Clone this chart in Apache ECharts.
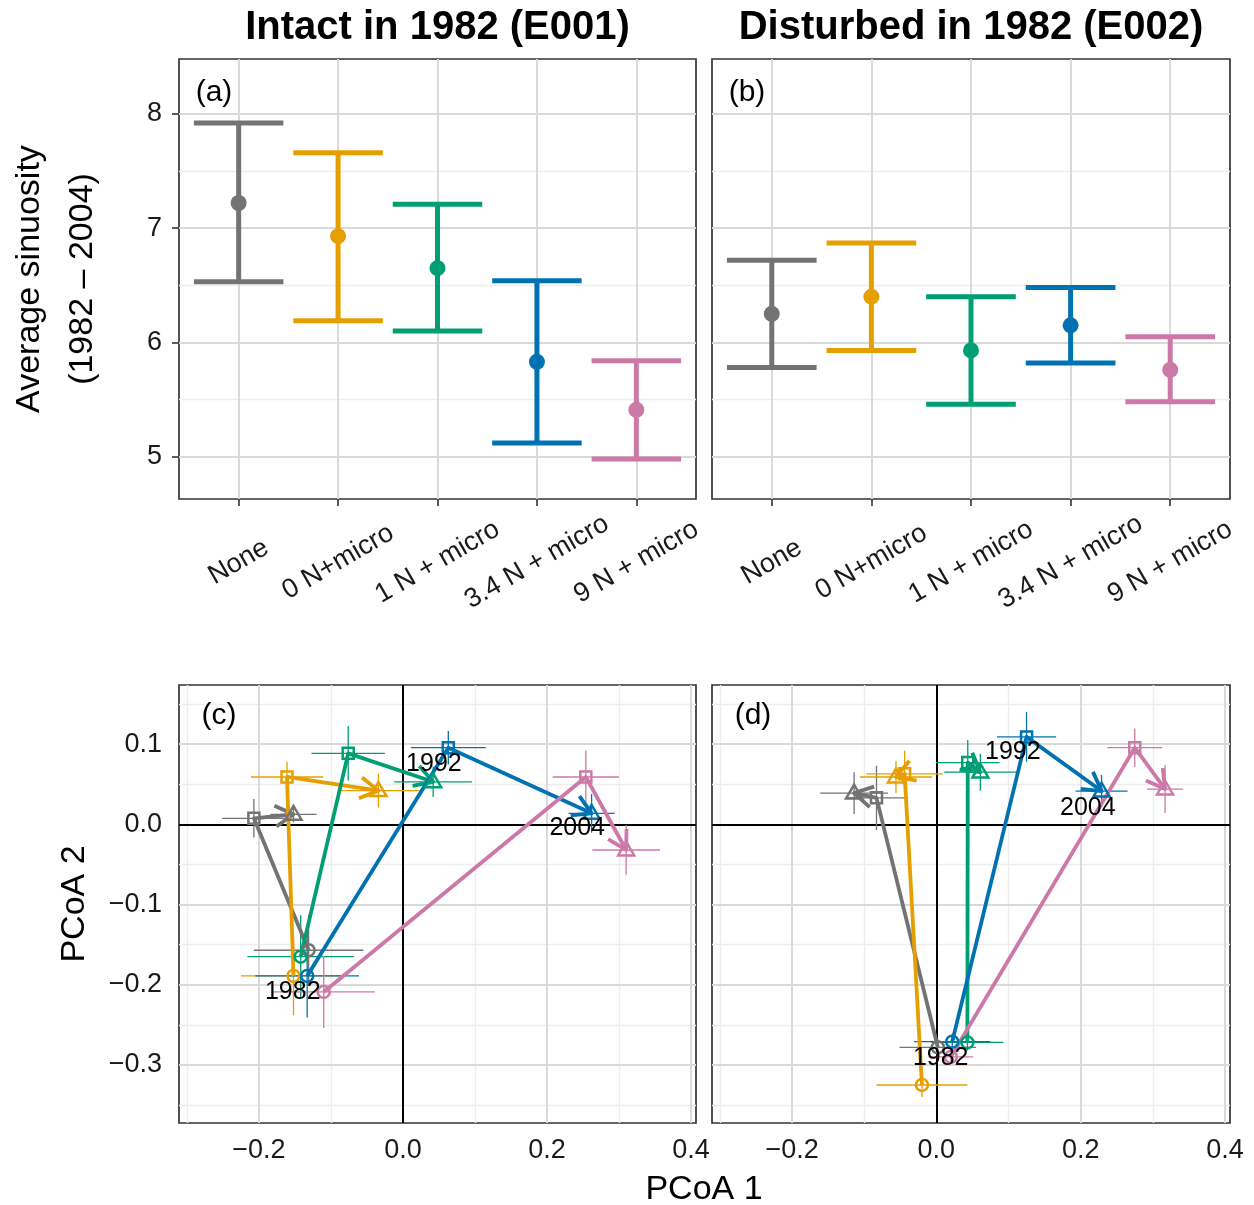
<!DOCTYPE html>
<html><head><meta charset="utf-8">
<script src="https://cdn.jsdelivr.net/npm/echarts@6/dist/echarts.min.js"></script>
<style>html,body{margin:0;padding:0;background:#fff}#c{width:1254px;height:1205px}</style>
</head><body><div id="c"></div>
<script>
// ---------- data ----------
const treatments = ['None', '0 N+micro', '1 N + micro', '3.4 N + micro', '9 N + micro'];
const colors = ['#737373', '#E69F00', '#009E73', '#0072B2', '#CC79A7'];
const titles = ['Intact in 1982 (E001)', 'Disturbed in 1982 (E002)'];

// Average sinuosity (1982 - 2004): mean and interval bounds
const e001Mean = [7.22, 6.93, 6.65, 5.83, 5.41];
const e001Low  = [6.53, 6.19, 6.10, 5.12, 4.98];
const e001High = [7.92, 7.66, 7.21, 6.54, 5.84];
const e002Mean = [6.25, 6.40, 5.93, 6.15, 5.76];
const e002Low  = [5.78, 5.93, 5.46, 5.82, 5.48];
const e002High = [6.72, 6.87, 6.40, 6.48, 6.05];
const sinTicks = [5, 6, 7, 8];

const years = ['1982', '1992', '2004'];
// PCoA centroids; rows = treatment, columns = year (1982, 1992, 2004)
const e001PC1 = [
  [-0.131, -0.207, -0.152],
  [-0.152, -0.161, -0.034],
  [-0.142, -0.076,  0.042],
  [-0.133,  0.063,  0.262],
  [-0.110,  0.254,  0.310]];
const e001PC2 = [
  [-0.157, 0.0075, 0.0125],
  [-0.189, 0.059,  0.042],
  [-0.165, 0.0885, 0.053],
  [-0.189, 0.0955, 0.0137],
  [-0.209, 0.059, -0.032]];
const e001PC1se = [
  [0.076, 0.044, 0.032],
  [0.073, 0.050, 0.057],
  [0.074, 0.051, 0.054],
  [0.072, 0.052, 0.032],
  [0.071, 0.046, 0.047]];
const e001PC2se = [
  [0.044, 0.024, 0.010],
  [0.049, 0.019, 0.021],
  [0.052, 0.034, 0.019],
  [0.052, 0.021, 0.024],
  [0.045, 0.033, 0.031]];
const e002PC1 = [
  [ 0.002, -0.083, -0.114],
  [-0.020, -0.044, -0.056],
  [ 0.043,  0.0435, 0.061],
  [ 0.022,  0.125,  0.229],
  [ 0.020,  0.275,  0.317]];
const e002PC2 = [
  [-0.278, 0.033,  0.039],
  [-0.325, 0.063,  0.059],
  [-0.272, 0.077,  0.065],
  [-0.271, 0.109,  0.0415],
  [-0.290, 0.0955, 0.044]];
const e002PC1se = [
  [0.053, 0.044, 0.047],
  [0.063, 0.053, 0.050],
  [0.050, 0.044, 0.050],
  [0.053, 0.041, 0.036],
  [0.031, 0.038, 0.025]];
const e002PC2se = [
  [0.010, 0.040, 0.026],
  [0.015, 0.029, 0.020],
  [0.010, 0.028, 0.023],
  [0.010, 0.031, 0.020],
  [0.005, 0.024, 0.030]];
// year label anchor positions (PCoA units)
const e001YearLabX = [-0.153, 0.043, 0.242];
const e001YearLabY = [-0.209, 0.075, -0.005];
const e002YearLabX = [0.006, 0.106, 0.210];
const e002YearLabY = [-0.291, 0.090, 0.020];
const pc1Ticks = [-0.2, 0, 0.2, 0.4];
const pc2Ticks = [-0.3, -0.2, -0.1, 0, 0.1];

// ---------- styling ----------
const FONT = "'Liberation Sans', Arial, Helvetica, sans-serif";
const TXT = '#1a1a1a';
const MAJ = '#D9D9D9', MIN = '#EDEDED';
const TICKFS = 27;

const chart = echarts.init(document.getElementById('c'), null, {renderer: 'canvas'});

function fmtNum(v) {
  const s = (Math.abs(v) < 1e-9 ? 0 : v).toFixed(1);
  return s.replace('-', '\u2212');
}

const grids = [
  {left: 179, top: 59, width: 517, height: 440},
  {left: 712, top: 59, width: 518, height: 440},
  {left: 179, top: 685, width: 517, height: 438},
  {left: 712, top: 685, width: 518, height: 438}
].map(g => Object.assign(g, {show: true, borderColor: '#333', borderWidth: 1.7, backgroundColor: '#fff', containLabel: false}));

const tickStyle = {show: true, length: 7, lineStyle: {color: '#333', width: 1.6}};
function catX(i) {
  return {type: 'value', gridIndex: i, min: 0.4, max: 5.6,
    axisLine: {show: false}, splitLine: {show: false},
    axisTick: Object.assign({customValues: [1, 2, 3, 4, 5]}, tickStyle),
    axisLabel: {customValues: [1, 2, 3, 4, 5], formatter: v => treatments[Math.round(v) - 1],
      rotate: 30, align: 'center', verticalAlign: 'middle', margin: 63,
      fontSize: TICKFS, color: TXT, fontFamily: FONT}};
}
function sinY(i) {
  return {type: 'value', gridIndex: i, min: 4.63, max: 8.48,
    axisLine: {show: false}, splitLine: {show: false},
    axisTick: Object.assign({customValues: sinTicks}, tickStyle, {show: i === 0}),
    axisLabel: {show: i === 0, customValues: sinTicks, margin: 17, fontSize: TICKFS, color: TXT, fontFamily: FONT}};
}
function pcX(i) {
  return {type: 'value', gridIndex: i, min: -0.311, max: 0.407,
    axisLine: {show: false}, splitLine: {show: false},
    axisTick: Object.assign({customValues: pc1Ticks}, tickStyle),
    axisLabel: {customValues: pc1Ticks, formatter: fmtNum, margin: 14, fontSize: TICKFS, color: TXT, fontFamily: FONT}};
}
function pcY(i) {
  return {type: 'value', gridIndex: i, min: -0.3724, max: 0.1737,
    axisLine: {show: false}, splitLine: {show: false},
    axisTick: Object.assign({customValues: pc2Ticks}, tickStyle, {show: i === 2}),
    axisLabel: {show: i === 2, customValues: pc2Ticks, formatter: fmtNum, margin: 17, fontSize: TICKFS, color: TXT, fontFamily: FONT}};
}

// gridline helper (markLine on an empty series)
function gridSeries(ai, xMaj, xMin, yMaj, yMin, zeroLines) {
  const d = [];
  xMin.forEach(v => d.push({xAxis: v, lineStyle: {color: MIN, width: 1.4, type: 'solid'}}));
  yMin.forEach(v => d.push({yAxis: v, lineStyle: {color: MIN, width: 1.4, type: 'solid'}}));
  xMaj.forEach(v => d.push({xAxis: v, lineStyle: {color: MAJ, width: 1.9, type: 'solid'}}));
  yMaj.forEach(v => d.push({yAxis: v, lineStyle: {color: MAJ, width: 1.9, type: 'solid'}}));
  if (zeroLines) {
    d.push({xAxis: 0, lineStyle: {color: '#000', width: 2, type: 'solid'}});
    d.push({yAxis: 0, lineStyle: {color: '#000', width: 2, type: 'solid'}});
  }
  return {type: 'line', xAxisIndex: ai, yAxisIndex: ai, data: [], z: 1,
    markLine: {silent: true, symbol: ['none', 'none'], label: {show: false}, animation: false, z: 1,
      emphasis: {disabled: true}, data: d}};
}

// sinuosity error bars
function sinRender(params, api) {
  const x = api.value(0), lo = api.value(1), m = api.value(2), hi = api.value(3);
  const pLo = api.coord([x, lo]), pHi = api.coord([x, hi]), pM = api.coord([x, m]);
  const half = api.size([0.9, 0])[0] / 2;
  const col = colors[params.dataIndex];
  const ls = {stroke: col, lineWidth: 5, fill: 'none'};
  return {type: 'group', children: [
    {type: 'line', shape: {x1: pLo[0], y1: pLo[1], x2: pHi[0], y2: pHi[1]}, style: ls},
    {type: 'line', shape: {x1: pLo[0] - half, y1: pLo[1], x2: pLo[0] + half, y2: pLo[1]}, style: ls},
    {type: 'line', shape: {x1: pHi[0] - half, y1: pHi[1], x2: pHi[0] + half, y2: pHi[1]}, style: ls},
    {type: 'circle', shape: {cx: pM[0], cy: pM[1], r: 8}, style: {fill: col, stroke: 'none'}}
  ]};
}
function sinSeries(ai, lo, mean, hi) {
  return {type: 'custom', xAxisIndex: ai, yAxisIndex: ai, z: 10, renderItem: sinRender,
    data: mean.map((m, i) => [i + 1, lo[i], m, hi[i]])};
}

// PCoA layers
function errRender(params, api) {
  const x = api.value(0), y = api.value(1), xe = api.value(2), ye = api.value(3), t = api.value(4);
  const a = api.coord([x - xe, y]), b = api.coord([x + xe, y]);
  const c = api.coord([x, y - ye]), d = api.coord([x, y + ye]);
  const st = {stroke: colors[t], lineWidth: 1.3, fill: 'none'};
  return {type: 'group', children: [
    {type: 'line', shape: {x1: a[0], y1: a[1], x2: b[0], y2: b[1]}, style: st},
    {type: 'line', shape: {x1: c[0], y1: c[1], x2: d[0], y2: d[1]}, style: st}
  ]};
}
function pathRender(params, api) {
  const t = api.value(6);
  const pts = [0, 1, 2].map(k => api.coord([api.value(2 * k), api.value(2 * k + 1)]));
  const col = colors[t];
  const tip = pts[2], prev = pts[1];
  const ang = Math.atan2(tip[1] - prev[1], tip[0] - prev[0]);
  const L = 21, A = Math.PI / 6;
  const b1 = [tip[0] - L * Math.cos(ang - A), tip[1] - L * Math.sin(ang - A)];
  const b2 = [tip[0] - L * Math.cos(ang + A), tip[1] - L * Math.sin(ang + A)];
  const st = {stroke: col, lineWidth: 3.8, fill: 'none', lineJoin: 'round'};
  return {type: 'group', children: [
    {type: 'polyline', shape: {points: pts}, style: st},
    {type: 'polyline', shape: {points: [b1, tip, b2]}, style: st}
  ]};
}
function ptRender(params, api) {
  const p = api.coord([api.value(0), api.value(1)]);
  const t = api.value(2), yr = api.value(3);
  const st = {stroke: colors[t], lineWidth: 2.5, fill: 'none'};
  if (yr === 0) return {type: 'circle', shape: {cx: p[0], cy: p[1], r: 6}, style: st};
  if (yr === 1) return {type: 'rect', shape: {x: p[0] - 5.5, y: p[1] - 5.5, width: 11, height: 11}, style: st};
  const s = 8;
  return {type: 'polygon', shape: {points: [[p[0], p[1] - s * 1.05], [p[0] - s, p[1] + s * 0.68], [p[0] + s, p[1] + s * 0.68]]}, style: st};
}
function labRender(params, api) {
  const p = api.coord([api.value(0), api.value(1)]);
  return {type: 'text', x: p[0], y: p[1],
    style: {text: years[api.value(2)], fontSize: 25, fontFamily: FONT, fill: '#000', align: 'center', verticalAlign: 'middle'}};
}
function pcoaSeries(ai, PC1, PC2, se1, se2, labX, labY) {
  const errData = [], pathData = [], ptData = [];
  PC1.forEach((row, t) => {
    row.forEach((x, k) => {
      errData.push([x, PC2[t][k], se1[t][k], se2[t][k], t]);
      ptData.push([x, PC2[t][k], t, k]);
    });
    pathData.push([row[0], PC2[t][0], row[1], PC2[t][1], row[2], PC2[t][2], t]);
  });
  const base = {type: 'custom', xAxisIndex: ai, yAxisIndex: ai};
  return [
    Object.assign({}, base, {z: 10, renderItem: errRender, data: errData}),
    Object.assign({}, base, {z: 11, renderItem: pathRender, data: pathData}),
    Object.assign({}, base, {z: 12, renderItem: ptRender, data: ptData}),
    Object.assign({}, base, {z: 13, renderItem: labRender, data: labX.map((x, k) => [x, labY[k], k])})
  ];
}

function txt(text, x, y, size, opts) {
  return Object.assign({type: 'text', x: x, y: y, z: 100,
    style: Object.assign({text: text, fontSize: size, fontFamily: FONT, fill: '#000', align: 'center', verticalAlign: 'middle'}, (opts && opts.style) || {})},
    (opts && opts.el) || {});
}

const option = {
  animation: false,
  backgroundColor: '#fff',
  grid: grids,
  xAxis: [catX(0), catX(1), pcX(2), pcX(3)],
  yAxis: [sinY(0), sinY(1), pcY(2), pcY(3)],
  series: [
    gridSeries(0, [1, 2, 3, 4, 5], [], sinTicks, [5.5, 6.5, 7.5], false),
    gridSeries(1, [1, 2, 3, 4, 5], [], sinTicks, [5.5, 6.5, 7.5], false),
    gridSeries(2, [-0.2, 0.2, 0.4], [-0.3, -0.1, 0.1, 0.3], [-0.3, -0.2, -0.1, 0.1], [-0.35, -0.25, -0.15, -0.05, 0.05, 0.15], true),
    gridSeries(3, [-0.2, 0.2, 0.4], [-0.3, -0.1, 0.1, 0.3], [-0.3, -0.2, -0.1, 0.1], [-0.35, -0.25, -0.15, -0.05, 0.05, 0.15], true),
    sinSeries(0, e001Low, e001Mean, e001High),
    sinSeries(1, e002Low, e002Mean, e002High)
  ].concat(pcoaSeries(2, e001PC1, e001PC2, e001PC1se, e001PC2se, e001YearLabX, e001YearLabY))
   .concat(pcoaSeries(3, e002PC1, e002PC2, e002PC1se, e002PC2se, e002YearLabX, e002YearLabY)),
  graphic: [
    txt(titles[0], 437.5, 28, 40, {style: {fontWeight: 'bold'}}),
    txt(titles[1], 971, 28, 40, {style: {fontWeight: 'bold'}}),
    txt('Average sinuosity', 30, 279, 34, {el: {rotation: Math.PI / 2}}),
    txt('(1982 \u2013 2004)', 83, 279, 34, {el: {rotation: Math.PI / 2}}),
    txt('PCoA 2', 75, 904, 34, {el: {rotation: Math.PI / 2}}),
    txt('PCoA 1', 704, 1190, 34),
    txt('(a)', 214, 93, 30),
    txt('(b)', 747, 93, 30),
    txt('(c)', 219, 716, 30),
    txt('(d)', 753, 716, 30)
  ]
};
chart.setOption(option);
</script>
</body></html>
